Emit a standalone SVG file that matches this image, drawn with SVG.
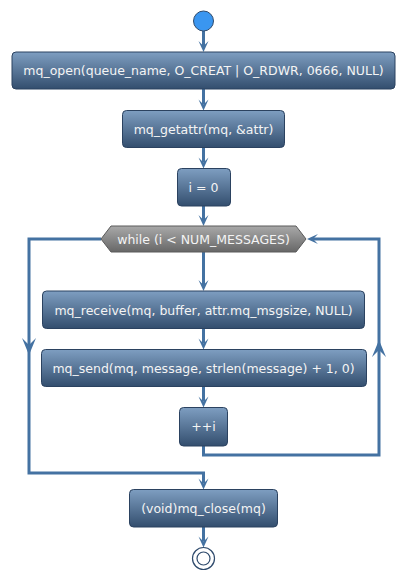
<svg xmlns="http://www.w3.org/2000/svg" width="406" height="580" viewBox="0 0 406 580">
<defs>
<linearGradient id="g" x1="0" y1="0" x2="0" y2="1">
<stop offset="0" stop-color="#7E9EC1"/>
<stop offset="1" stop-color="#334E6E"/>
</linearGradient>
<linearGradient id="gh" x1="0" y1="0" x2="0" y2="1">
<stop offset="0" stop-color="#A9A9A9"/>
<stop offset="1" stop-color="#676767"/>
</linearGradient>
<marker id="ah" viewBox="-12 -6 13 12" refX="-6" refY="0" markerWidth="13" markerHeight="12" markerUnits="userSpaceOnUse" orient="auto">
<path d="M0,0 L-11,-5 L-6,0 L-11,5 Z" fill="#4472A2"/>
</marker>
<style>
.box{fill:url(#g);stroke:#2B4260;stroke-width:1}
.t{font-family:"DejaVu Sans",Verdana,sans-serif;font-size:12.5px;fill:#F4F4F4;text-anchor:middle}
.c{fill:none;stroke:#4472A2;stroke-width:3}
.ar{fill:#4472A2}
</style>
</defs>
<g id="connectors">
<path class="c" d="M203.5,31 V46" marker-end="url(#ah)"/>
<path class="c" d="M203.5,89 V104.5" marker-end="url(#ah)"/>
<path class="c" d="M203.5,147.5 V162.5" marker-end="url(#ah)"/>
<path class="c" d="M203.5,206 V220" marker-end="url(#ah)"/>
<path class="c" d="M203.5,252 V285" marker-end="url(#ah)"/>
<path class="c" d="M203.5,328.5 V343.5" marker-end="url(#ah)"/>
<path class="c" d="M203.5,386.5 V401.5" marker-end="url(#ah)"/>
<path class="c" d="M203.5,446 V455 H379 V239 H313" marker-end="url(#ah)"/>
<path class="c" d="M101,239 H29 V473 H203.5 V483.5" marker-end="url(#ah)"/>
<path class="c" d="M203.5,527 V541.5" marker-end="url(#ah)"/>
<path class="ar" d="M29,355 L22,338 L29,345 L36,338 Z"/>
<path class="ar" d="M379,340 L372,357 L379,350 L386,357 Z"/>
</g>
<g id="start">
<circle cx="203.5" cy="21" r="10" fill="#3A96F0" stroke="#2E4A6C" stroke-width="1"/>
</g>
<g id="n1">
<rect class="box" x="12" y="52" width="383" height="37" rx="4"/>
<text class="t" x="203.5" y="75">mq_open(queue_name, O_CREAT | O_RDWR, 0666, NULL)</text>
</g>
<g id="n2">
<rect class="box" x="122.5" y="110.5" width="162" height="37" rx="4"/>
<text class="t" x="203.5" y="133.5">mq_getattr(mq, &amp;attr)</text>
</g>
<g id="n3">
<rect class="box" x="177.5" y="168.5" width="53" height="37.5" rx="4"/>
<text class="t" x="203.5" y="192">i = 0</text>
</g>
<g id="loop">
<polygon points="101,239 111,226 296,226 306,239 296,252 111,252" fill="url(#gh)" stroke="#5A5A5A" stroke-width="1"/>
<text class="t" x="203.5" y="243.5">while (i &lt; NUM_MESSAGES)</text>
</g>
<g id="n4">
<rect class="box" x="42.5" y="291" width="322" height="37.5" rx="4"/>
<text class="t" x="203.5" y="314.5">mq_receive(mq, buffer, attr.mq_msgsize, NULL)</text>
</g>
<g id="n5">
<rect class="box" x="41.5" y="349.5" width="325" height="37" rx="4"/>
<text class="t" x="203.5" y="372.5">mq_send(mq, message, strlen(message) + 1, 0)</text>
</g>
<g id="n6">
<rect class="box" x="179.5" y="407.5" width="48" height="38.5" rx="4"/>
<text class="t" x="203.5" y="431">++i</text>
</g>
<g id="n7">
<rect class="box" x="129.5" y="489.5" width="148" height="37.5" rx="4"/>
<text class="t" x="203.5" y="513">(void)mq_close(mq)</text>
</g>
<g id="end">
<circle cx="203.5" cy="558.5" r="11" fill="#FFFFFF" stroke="#2E4A6C" stroke-width="1.2"/>
<circle cx="203.5" cy="558.5" r="6.5" fill="none" stroke="#2E4A6C" stroke-width="1.2"/>
</g>
</svg>
